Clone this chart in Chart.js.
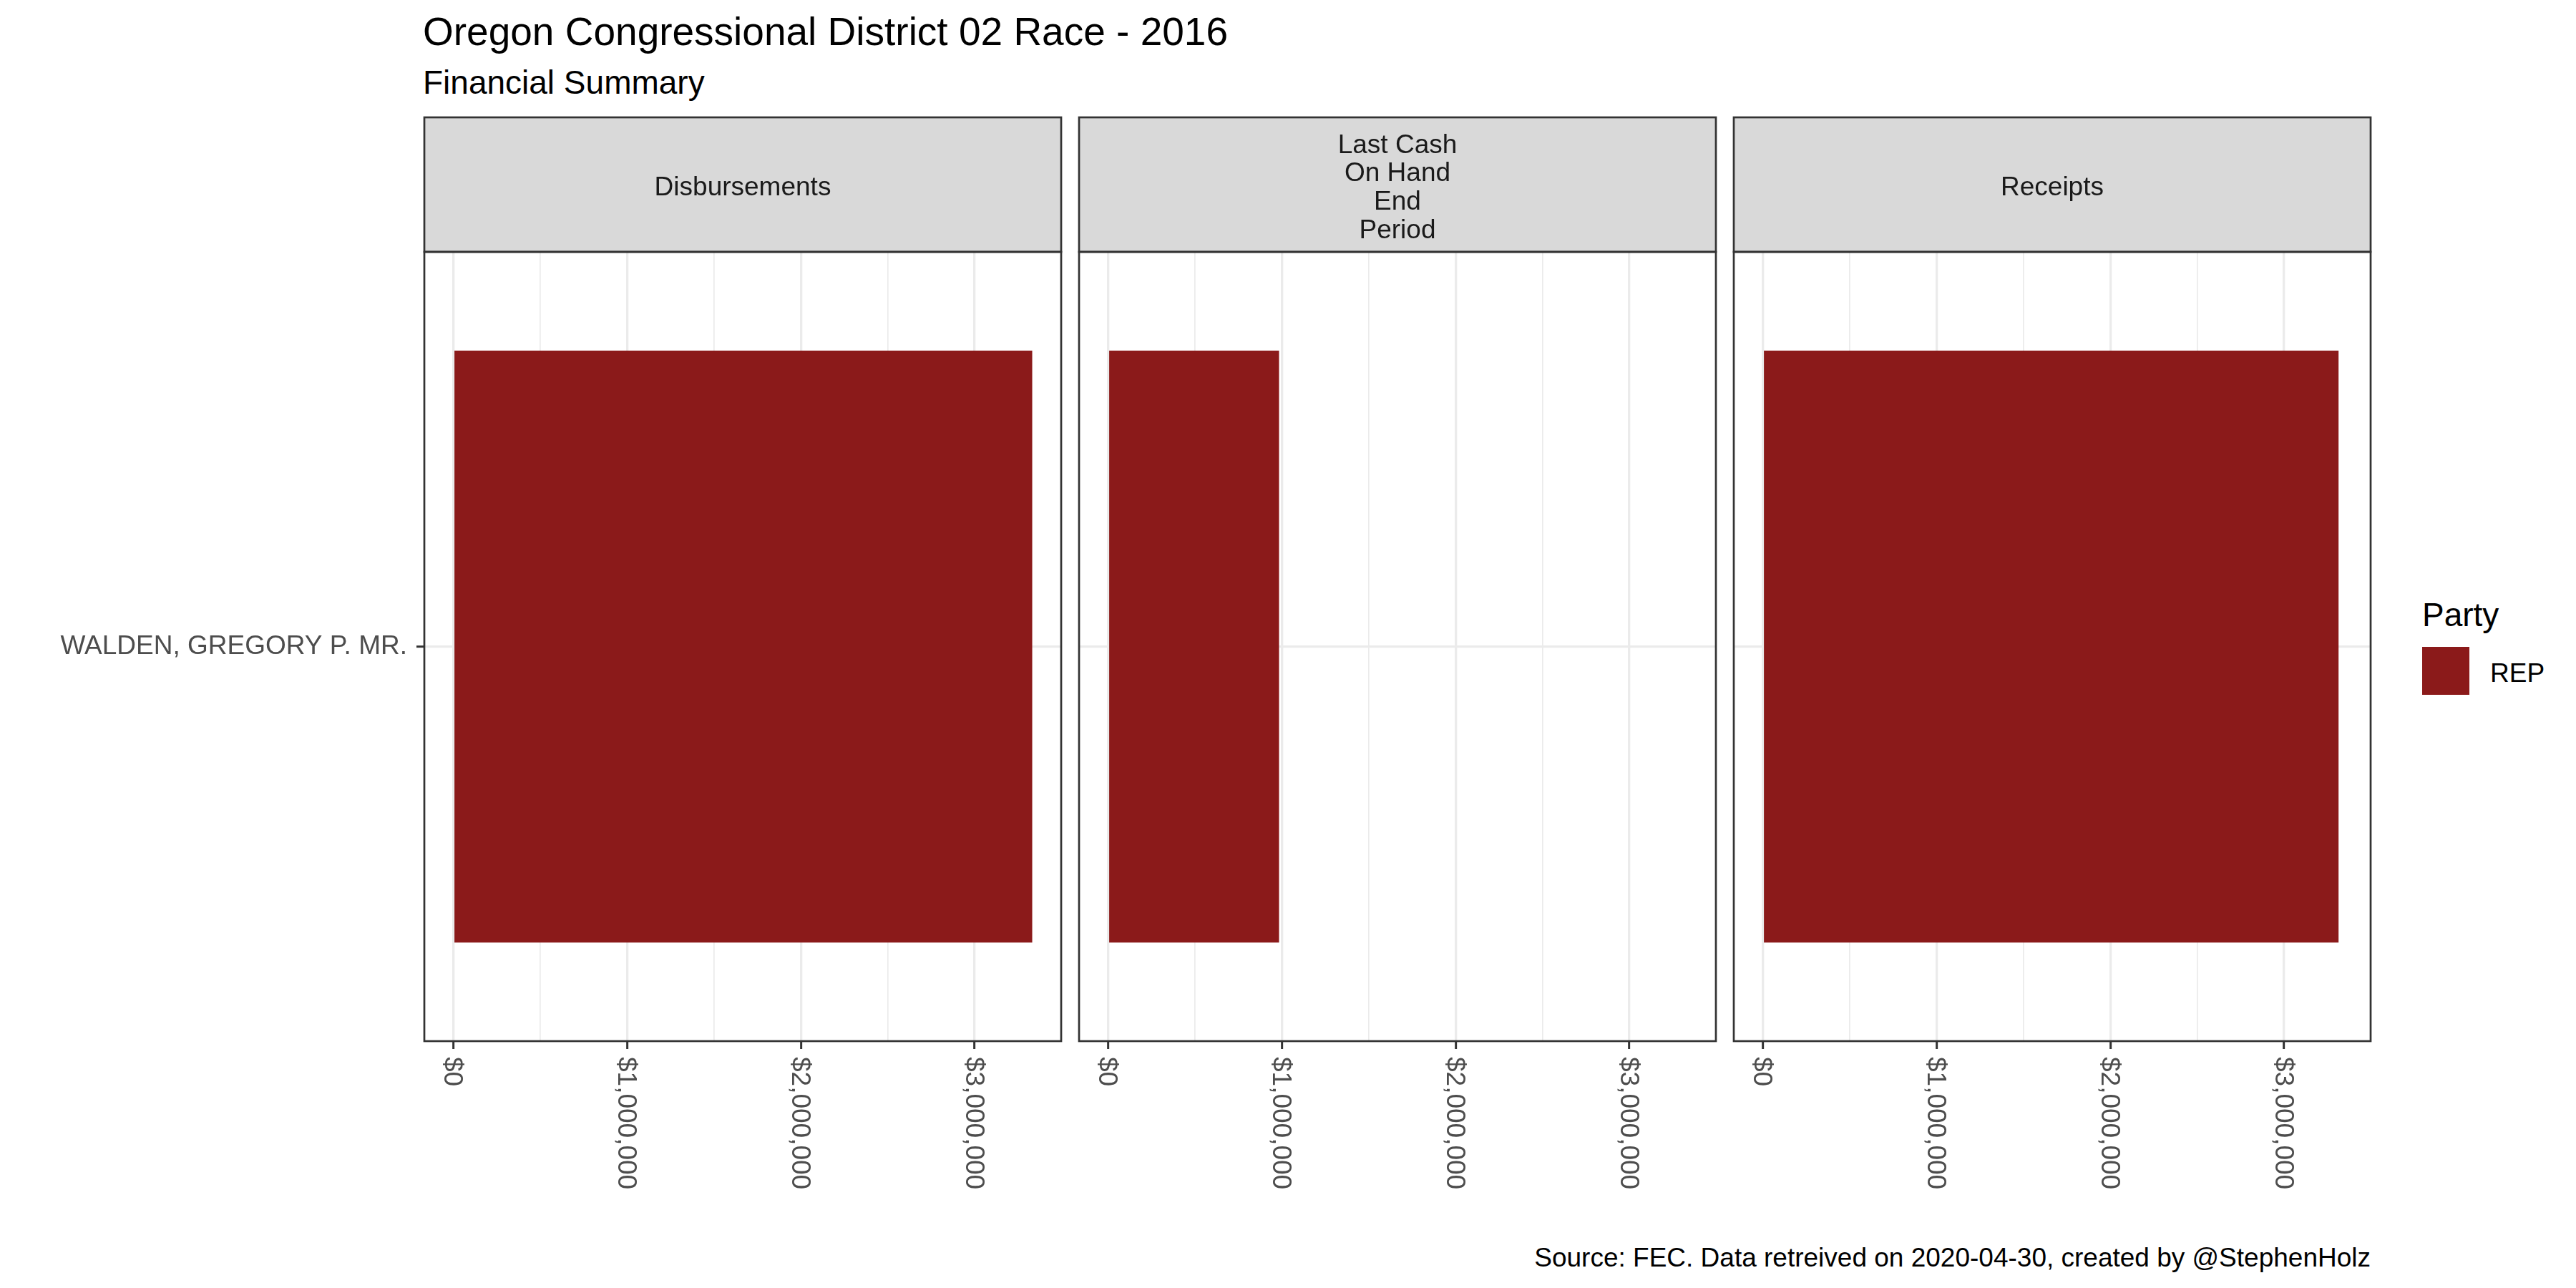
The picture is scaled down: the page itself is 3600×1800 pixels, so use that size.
<!DOCTYPE html>
<html>
<head>
<meta charset="utf-8">
<script src="https://cdn.jsdelivr.net/npm/chart.js@4/dist/chart.umd.min.js"></script>
<style>
  body { margin: 0; background: #fff; width: 3600px; height: 1800px; position: relative; overflow: hidden;
         font-family: 'Liberation Sans', Arial, sans-serif; }
  .t { position: absolute; line-height: 1; white-space: nowrap; color: #000; }
  canvas { position: absolute; top: 160px; }
</style>
</head>
<body>
<div class="t" style="left:591px; top:17px; font-size:55px;">Oregon Congressional District 02 Race - 2016</div>
<div class="t" style="left:591px; top:92px; font-size:46px;">Financial Summary</div>
<div class="t" style="left:3385px; top:836px; font-size:46px;">Party</div>
<div style="position:absolute; left:3385px; top:904px; width:66px; height:67px; background:#8B1A1A;"></div>
<div class="t" style="left:3480px; top:922px; font-size:37px;">REP</div>
<div class="t" style="right:287px; top:1739px; font-size:37px;">Source: FEC. Data retreived on 2020-04-30, created by @StephenHolz</div>

<canvas id="p0" width="1486" height="1595" style="left:0px"></canvas>
<canvas id="p1" width="903" height="1595" style="left:1498px"></canvas>
<canvas id="p2" width="903" height="1595" style="left:2413px"></canvas>

<script>
const candidates = ['WALDEN, GREGORY P. MR.'];
const metrics = ['Disbursements', 'Last Cash On Hand End Period', 'Receipts'];
const disbursements = [3331000];
const cashOnHand = [984000];
const receipts = [3313000];
const tickValues = [0, 1000000, 2000000, 3000000];
const minorValues = [500000, 1500000, 2500000];
const party = 'REP';
const partyColor = '#8B1A1A';

const FONT = "'Liberation Sans', Arial, sans-serif";
Chart.defaults.font.family = FONT;

const series = [disbursements, cashOnHand, receipts];
const maxVal = Math.max(...series.flat());
const xMin = -maxVal * 0.05;
const xMax = maxVal * 1.05;
const gridValues = tickValues.concat(minorValues).sort((a, b) => a - b);

// strip labels wrap like label_wrap_gen(10)
function wrap(s, w) {
  const out = [];
  let line = '';
  s.split(' ').forEach(word => {
    if (line && (line + ' ' + word).length >= w) { out.push(line); line = word; }
    else line = line ? line + ' ' + word : word;
  });
  if (line) out.push(line);
  return out;
}

const fmt = v => '$' + v.toLocaleString('en-US');
const isMajor = v => tickValues.includes(v);
const STRIP_TOP = 4;

const facetPlugin = {
  id: 'facet',
  afterDraw(chart) {
    const { ctx, chartArea: a } = chart;
    const w = a.right - a.left;
    ctx.save();
    // strip
    ctx.fillStyle = '#D9D9D9';
    ctx.fillRect(a.left, STRIP_TOP, w, a.top - STRIP_TOP);
    ctx.strokeStyle = '#333333';
    ctx.lineWidth = 2.7;
    ctx.strokeRect(a.left, STRIP_TOP, w, a.top - STRIP_TOP);
    // panel border
    ctx.strokeRect(a.left, a.top, w, a.bottom - a.top);

    // strip text
    const lines = wrap(chart.options.plugins.facet.name, 10);
    ctx.fillStyle = '#1A1A1A';
    ctx.font = '37px ' + FONT;
    ctx.textAlign = 'center';
    ctx.textBaseline = 'alphabetic';
    const cx = (a.left + a.right) / 2;
    const cy = (STRIP_TOP + a.top) / 2 + 2;
    lines.forEach((l, k) => {
      ctx.fillText(l, cx, cy + 13.2 + (k - (lines.length - 1) / 2) * 39.7);
    });

    // x tick labels, rotated clockwise
    const xs = chart.scales.x;
    ctx.fillStyle = '#4D4D4D';
    xs.ticks.forEach(t => {
      if (!isMajor(t.value)) return;
      const x = xs.getPixelForValue(t.value);
      ctx.save();
      ctx.translate(x - 2, a.bottom + 22);
      ctx.rotate(Math.PI / 2);
      ctx.textAlign = 'left';
      ctx.textBaseline = 'middle';
      ctx.fillText(fmt(t.value), 0, 0);
      ctx.restore();
    });
    ctx.restore();
  }
};

const yWidths = [593, 10, 10];

metrics.forEach((name, i) => {
  new Chart(document.getElementById('p' + i), {
    type: 'bar',
    data: {
      labels: candidates,
      datasets: [{
        label: party,
        data: series[i],
        backgroundColor: partyColor,
        barPercentage: 0.75,
        categoryPercentage: 1
      }]
    },
    plugins: [facetPlugin],
    options: {
      indexAxis: 'y',
      responsive: false,
      animation: false,
      layout: { padding: { top: 192, right: 3, bottom: 0, left: 0 } },
      plugins: {
        legend: { display: false },
        tooltip: { enabled: false },
        facet: { name: name }
      },
      scales: {
        x: {
          type: 'linear',
          min: xMin,
          max: xMax,
          border: { display: false },
          ticks: { display: false },
          afterBuildTicks: s => { s.ticks = gridValues.map(v => ({ value: v })); },
          grid: {
            color: '#EBEBEB',
            lineWidth: c => isMajor(c.tick.value) ? 3.3 : 1.7,
            drawTicks: true,
            tickLength: 11,
            tickWidth: 3,
            tickColor: c => isMajor(c.tick.value) ? '#333333' : 'rgba(0,0,0,0)'
          },
          afterFit: s => { s.height = 300; }
        },
        y: {
          offset: true,
          border: { display: false },
          ticks: { display: i === 0, color: '#4D4D4D', font: { size: 37 }, padding: 13 },
          grid: {
            offset: false,
            color: '#EBEBEB',
            lineWidth: 3.3,
            drawTicks: i === 0,
            tickLength: 11,
            tickWidth: 3,
            tickColor: '#333333'
          },
          afterFit: s => { s.width = yWidths[i]; }
        }
      }
    }
  });
});
</script>
</body>
</html>
